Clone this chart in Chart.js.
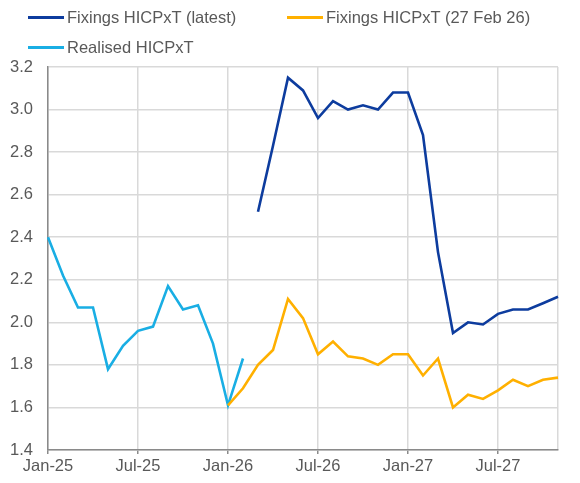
<!DOCTYPE html>
<html>
<head>
<meta charset="utf-8">
<script src="https://cdn.jsdelivr.net/npm/chart.js@4.4.1/dist/chart.umd.min.js"></script>
<style>
    body { margin: 0; background: #fff; }
    #wrap { position: relative; width: 580px; height: 483px; }
    #legend { position: absolute; left: 0; top: 0; width: 580px; font-family: "Liberation Sans", Arial, sans-serif; font-size: 16.5px; color: #595959; }
    .item { position: absolute; white-space: nowrap; line-height: 18px; }
    .item .swatch { display: inline-block; width: 36px; height: 3px; vertical-align: middle; margin-right: 3px; position: relative; top: -1px; }
</style>
</head>
<body>
<div id="wrap">
    <canvas id="chart" width="580" height="483"></canvas>
    <div id="legend"></div>
</div>
<script>
const months = ["Jan-25", "Feb-25", "Mar-25", "Apr-25", "May-25", "Jun-25", "Jul-25", "Aug-25", "Sep-25", "Oct-25", "Nov-25", "Dec-25",
    "Jan-26", "Feb-26", "Mar-26", "Apr-26", "May-26", "Jun-26", "Jul-26", "Aug-26", "Sep-26", "Oct-26", "Nov-26", "Dec-26",
    "Jan-27", "Feb-27", "Mar-27", "Apr-27", "May-27", "Jun-27", "Jul-27", "Aug-27", "Sep-27", "Oct-27", "Nov-27"];

const fixingsLatest = [null, null, null, null, null, null, null, null, null, null, null, null,
    null, null, 2.52, 2.83, 3.15, 3.09, 2.96, 3.04, 3.00, 3.02, 3.00, 3.08,
    3.08, 2.88, 2.33, 1.95, 2.00, 1.99, 2.04, 2.06, 2.06, 2.09, 2.12];

const fixingsFeb26 = [null, null, null, null, null, null, null, null, null, null, null, null,
    1.61, 1.69, 1.80, 1.87, 2.11, 2.02, 1.85, 1.91, 1.84, 1.83, 1.80, 1.85,
    1.85, 1.75, 1.83, 1.60, 1.66, 1.64, 1.68, 1.73, 1.70, 1.73, 1.74];

const realised = [2.40, 2.22, 2.07, 2.07, 1.78, 1.89, 1.96, 1.98, 2.17, 2.06, 2.08, 1.90,
    1.61, 1.83, null, null, null, null, null, null, null, null, null, null,
    null, null, null, null, null, null, null, null, null, null, null];

const seriesNames = ["Fixings HICPxT (latest)", "Fixings HICPxT (27 Feb 26)", "Realised HICPxT"];
const seriesColors = ["#0D3C9E", "#FFB000", "#19AEE4"];

const yTicks = [1.4, 1.6, 1.8, 2.0, 2.2, 2.4, 2.6, 2.8, 3.0, 3.2];

document.addEventListener("DOMContentLoaded", () => {
    const gridColor = "#d9d9d9";
    const axisColor = "#8a8a8a";
    const textColor = "#595959";
    const lastIndex = months.length - 1;

    // legend positions like the original (two columns, second row under the first)
    const legendSpots = [{ left: 28, top: 8 }, { left: 287, top: 8 }, { left: 28, top: 38 }];
    const legend = document.getElementById("legend");
    seriesNames.forEach((name, i) => {
        const item = document.createElement("div");
        item.className = "item";
        item.style.left = legendSpots[i].left + "px";
        item.style.top = legendSpots[i].top + "px";
        const swatch = document.createElement("span");
        swatch.className = "swatch";
        swatch.style.background = seriesColors[i];
        item.appendChild(swatch);
        item.appendChild(document.createTextNode(name));
        legend.appendChild(item);
    });

    const datasets = [fixingsFeb26, realised, fixingsLatest].map(values => {
        const i = values === fixingsLatest ? 0 : values === fixingsFeb26 ? 1 : 2;
        return {
            label: seriesNames[i],
            data: values,
            borderColor: seriesColors[i],
            backgroundColor: seriesColors[i],
            borderWidth: 2.6,
            pointRadius: 0,
            tension: 0,
            spanGaps: false
        };
    });

    new Chart(document.getElementById("chart"), {
        type: "line",
        data: { labels: months, datasets },
        options: {
            responsive: false,
            animation: false,
            layout: { padding: { top: 67, right: 22, left: 0, bottom: 0 } },
            plugins: { legend: { display: false }, tooltip: { enabled: false } },
            scales: {
                x: {
                    afterFit: scale => { scale.height = 33; },
                    border: { color: axisColor, width: 1.5 },
                    grid: {
                        color: ctx => (ctx.index % 6 === 0 || ctx.index === lastIndex) ? gridColor : "transparent",
                        tickColor: ctx => ctx.index % 6 === 0 ? axisColor : "transparent",
                        lineWidth: 1.5,
                        tickLength: 4
                    },
                    ticks: {
                        autoSkip: false,
                        maxRotation: 0,
                        padding: 3,
                        color: textColor,
                        font: { family: "Liberation Sans", size: 16.5 },
                        callback: (value, index) => index % 6 === 0 ? months[index] : ""
                    }
                },
                y: {
                    min: yTicks[0],
                    max: yTicks[yTicks.length - 1],
                    afterFit: scale => { scale.width = 48; },
                    afterBuildTicks: scale => { scale.ticks = yTicks.map(v => ({ value: v })); },
                    border: { color: axisColor, width: 1.5 },
                    grid: { color: gridColor, lineWidth: 1.5, drawTicks: false },
                    ticks: {
                        padding: 15,
                        color: textColor,
                        font: { family: "Liberation Sans", size: 16.5 },
                        callback: value => value.toFixed(1)
                    }
                }
            }
        }
    });
});
</script>
</body>
</html>
